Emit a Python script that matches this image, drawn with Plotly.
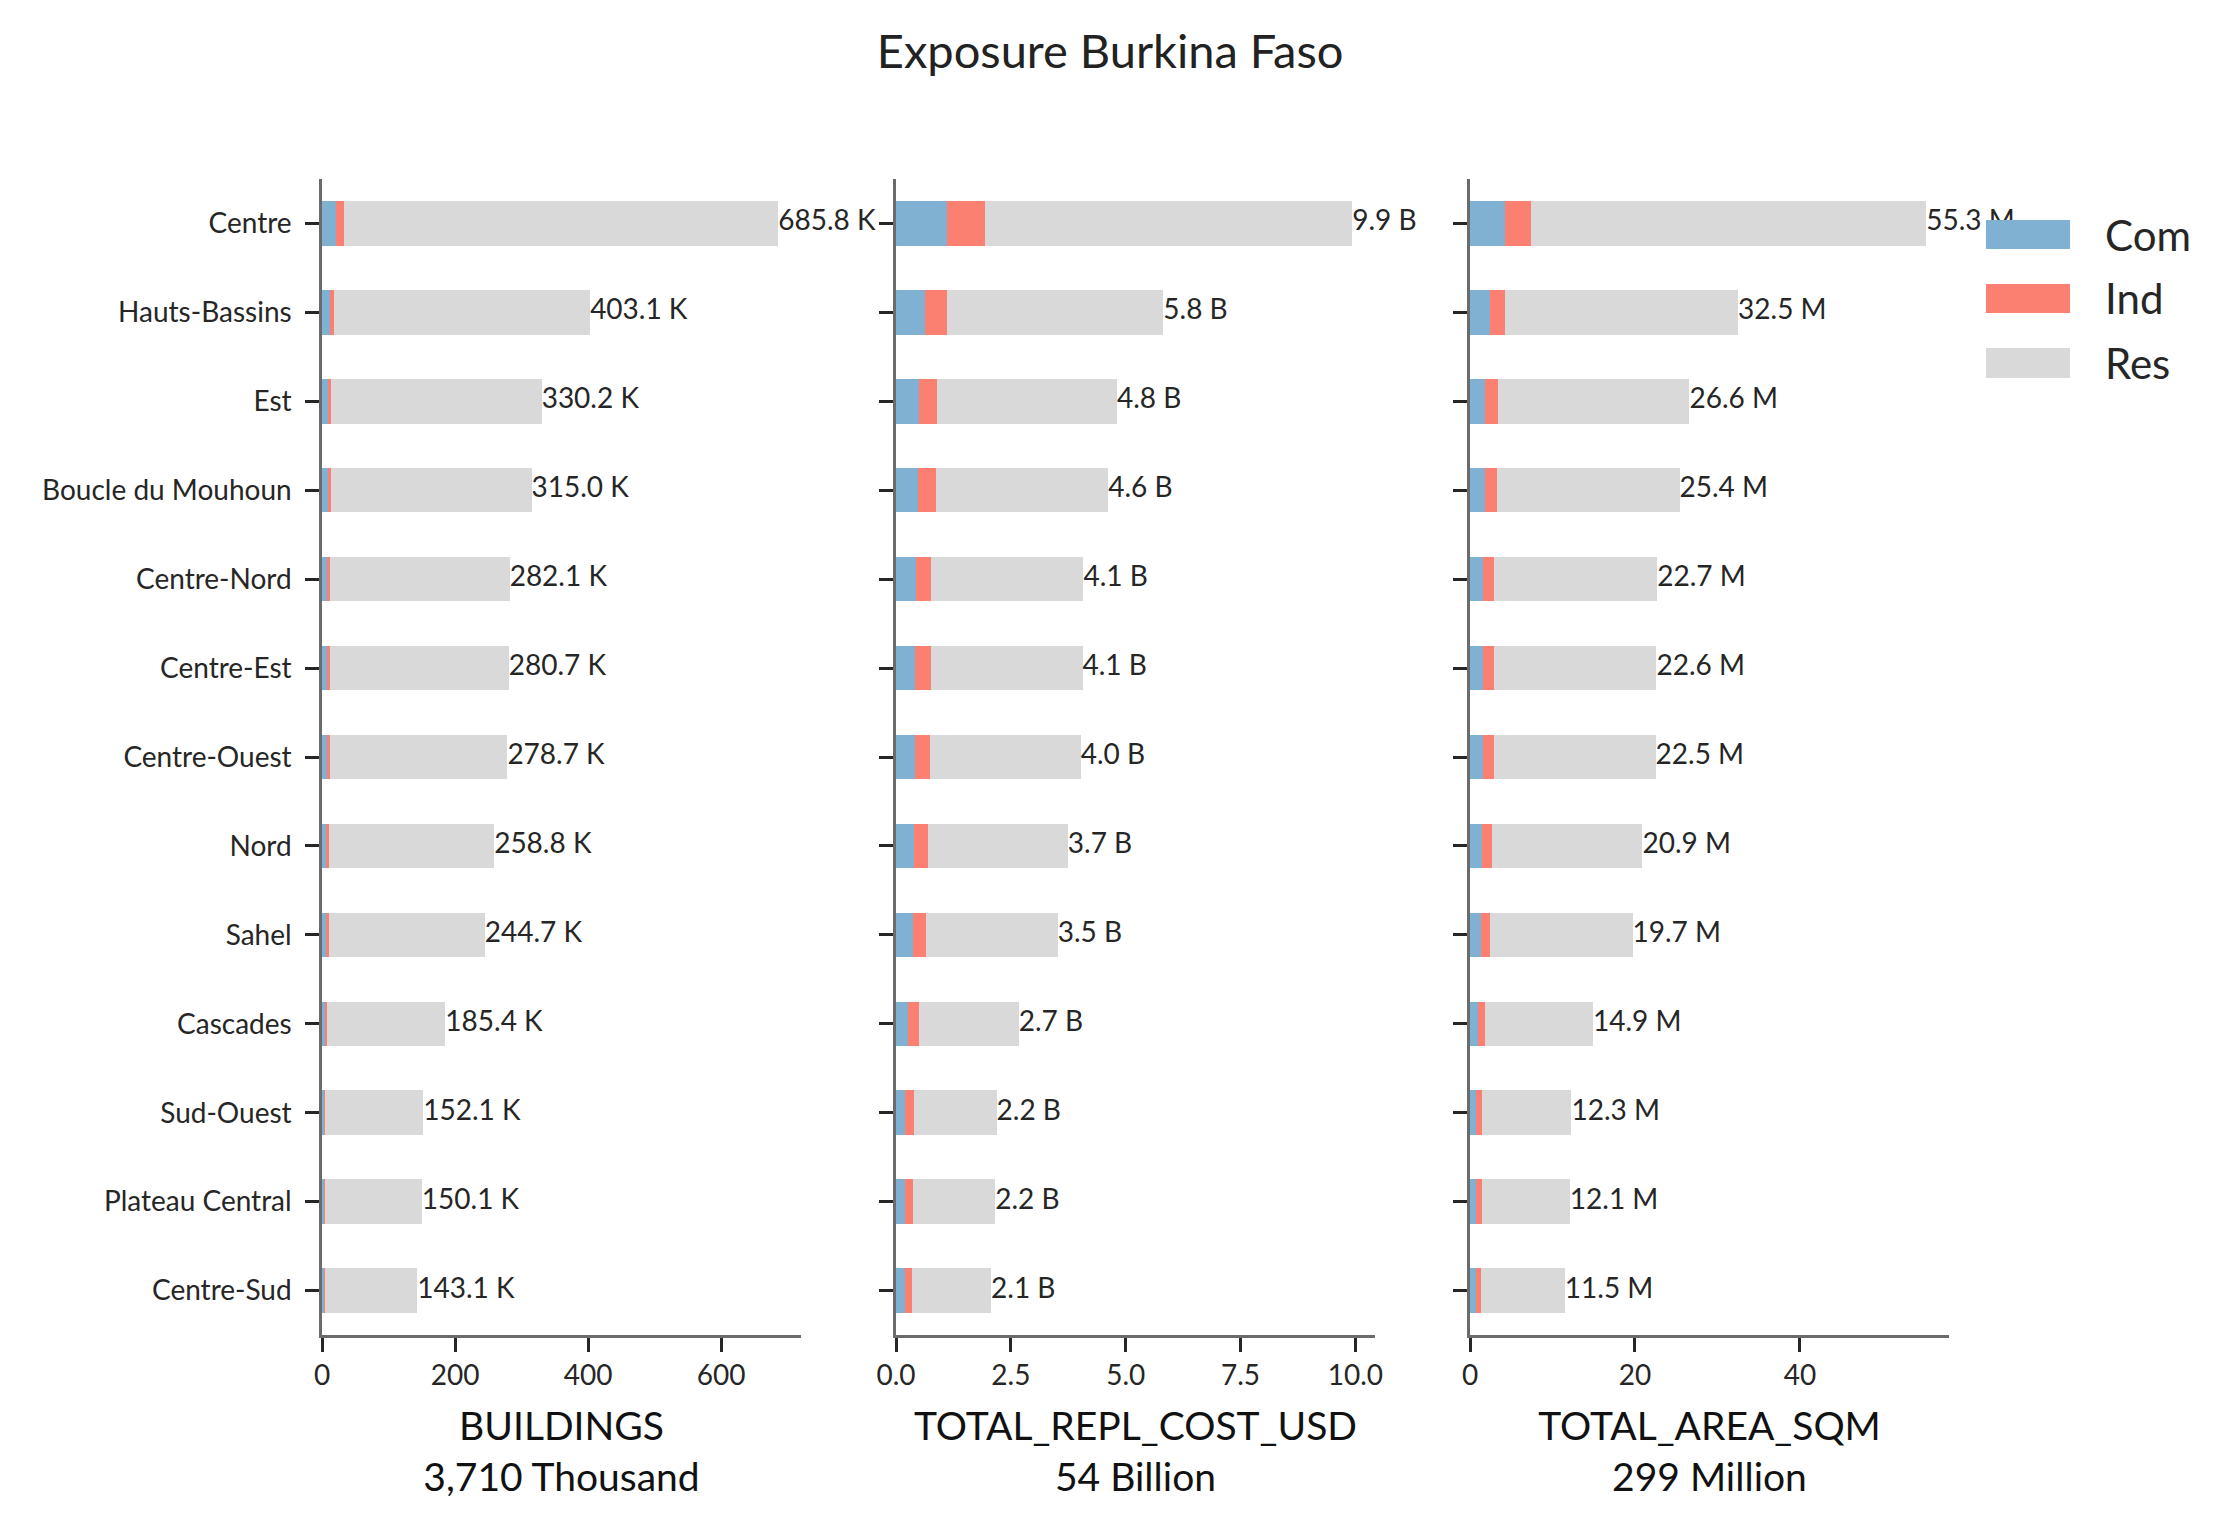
import plotly.graph_objects as go

# ---------------- data ----------------
regions = ["Centre", "Hauts-Bassins", "Est", "Boucle du Mouhoun", "Centre-Nord",
           "Centre-Est", "Centre-Ouest", "Nord", "Sahel", "Cascades", "Sud-Ouest",
           "Plateau Central", "Centre-Sud"]

# BUILDINGS (thousands)
bld_com = [20.3, 11.9, 8.3, 8.3, 8.0, 8.0, 8.0, 6.0, 6.0, 5.0, 3.0, 3.0, 3.0]
bld_ind = [13.1, 6.0, 5.4, 5.4, 4.5, 4.5, 4.5, 5.0, 5.0, 3.0, 2.0, 2.0, 2.0]
bld_res = [652.4, 385.2, 316.5, 301.3, 269.6, 268.2, 266.2, 247.8, 233.7, 177.4, 147.1, 145.1, 138.1]

# TOTAL_REPL_COST_USD (billions)
cost_com = [1.12, 0.64, 0.51, 0.48, 0.44, 0.42, 0.42, 0.39, 0.38, 0.27, 0.20, 0.20, 0.20]
cost_ind = [0.81, 0.48, 0.39, 0.38, 0.33, 0.35, 0.33, 0.31, 0.28, 0.22, 0.20, 0.17, 0.15]
cost_res = [8.00, 4.70, 3.91, 3.76, 3.31, 3.29, 3.27, 3.04, 2.86, 2.18, 1.79, 1.79, 1.72]

# TOTAL_AREA_SQM (millions)
area_com = [4.27, 2.40, 1.87, 1.79, 1.63, 1.63, 1.63, 1.46, 1.34, 0.98, 0.70, 0.70, 0.70]
area_ind = [3.13, 1.87, 1.52, 1.48, 1.30, 1.30, 1.30, 1.22, 1.10, 0.85, 0.77, 0.77, 0.65]
area_res = [47.90, 28.23, 23.21, 22.13, 19.77, 19.67, 19.57, 18.22, 17.26, 13.07, 10.83, 10.63, 10.15]

occupancies = ["Com", "Ind", "Res"]
occ_colors = ["#80b1d3", "#fb8072", "#d9d9d9"]

metrics = ["BUILDINGS", "TOTAL_REPL_COST_USD", "TOTAL_AREA_SQM"]
unit_words = ["Thousand", "Billion", "Million"]
unit_short = ["K", "B", "M"]
x_ticks = [[0, 200, 400, 600], [0, 2.5, 5.0, 7.5, 10.0], [0, 20, 40]]
x_tickformat = ["d", ".1f", "d"]

panel_data = [
    (bld_com, bld_ind, bld_res),
    (cost_com, cost_ind, cost_res),
    (area_com, area_ind, area_res),
]

# ---------------- figure ----------------
OFF = 8                      # page body margin of the html
W, H = 2238 - 2 * OFF, 1534 - 2 * OFF
ML, MT = 322 - OFF, 179 - OFF
MR = W - (1949 - OFF)
MB = H - (1335 - OFF)
plot_w = W - ML - MR
plot_h = H - MT - MB
panel_w = 479
gap = 95

FONT = "Lato, 'Noto Sans', sans-serif"
TXT = "#262626"
AXC = "#6b6b6b"

fig = go.Figure()
layout_axes = {}

for i, (com, ind, res) in enumerate(panel_data):
    xa = "x" if i == 0 else f"x{i+1}"
    ya = "y" if i == 0 else f"y{i+1}"
    for name, vals, col in zip(occupancies, (com, ind, res), occ_colors):
        fig.add_trace(go.Bar(
            y=regions, x=vals, orientation="h", name=name,
            marker=dict(color=col, line=dict(width=0)), width=0.5,
            xaxis=xa, yaxis=ya, showlegend=False, hoverinfo="x+y+name"))
    totals = [c + d + r for c, d, r in zip(com, ind, res)]
    labels = [f"{t:.1f} {unit_short[i]}" for t in totals]
    fig.add_trace(go.Scatter(
        x=totals, y=regions, mode="text", text=labels,
        textposition="middle right",
        textfont=dict(family=FONT, size=28, color=TXT),
        xaxis=xa, yaxis=ya, showlegend=False, hoverinfo="skip", cliponaxis=False))

    x0 = (i * (panel_w + gap)) / plot_w
    x1 = min(1.0, (i * (panel_w + gap) + panel_w) / plot_w)
    xmax = max(totals) * 1.05
    grand = sum(totals)
    title_txt = f"{metrics[i]}<br>{grand:,.0f} {unit_words[i]}"
    xkey = "xaxis" if i == 0 else f"xaxis{i+1}"
    ykey = "yaxis" if i == 0 else f"yaxis{i+1}"
    layout_axes[xkey] = dict(
        domain=[x0, x1], anchor=ya, range=[0, xmax],
        tickvals=x_ticks[i], tickformat=x_tickformat[i],
        ticks="outside", ticklen=14, tickwidth=2.5, tickcolor=TXT,
        showline=True, linecolor=AXC, linewidth=2.5,
        showgrid=False, zeroline=False,
        tickfont=dict(family=FONT, size=28, color=TXT),
        title=dict(text=title_txt, standoff=23,
                   font=dict(family=FONT, size=39, color="#111111")),
    )
    layout_axes[ykey] = dict(
        domain=[0, 1], anchor=xa, type="category",
        categoryorder="array", categoryarray=regions,
        range=[12.5, -0.5],
        ticks="outside", ticklen=14, tickwidth=2.5, tickcolor=TXT,
        showline=True, linecolor=AXC, linewidth=2.5,
        showgrid=False, zeroline=False,
        showticklabels=(i == 0),
        ticklabelstandoff=8,
        tickfont=dict(family=FONT, size=28, color=TXT),
    )

# custom legend (large swatches like the reference); pixel rows on the page
shapes = []
annotations = []
leg_rows_px = [(220, 249), (284, 313), (348, 378)]
for (top, bot), name, col in zip(leg_rows_px, occupancies, occ_colors):
    y0 = (H - MB - (bot - OFF)) / plot_h
    y1 = (H - MB - (top - OFF)) / plot_h
    shapes.append(dict(type="rect", xref="paper", yref="paper",
                       x0=(1986 - OFF - ML) / plot_w, x1=(2070 - OFF - ML) / plot_w,
                       y0=y0, y1=y1, fillcolor=col, line=dict(width=0),
                       layer="above"))
    annotations.append(dict(text=name, xref="paper", yref="paper",
                            x=(2103 - OFF - ML) / plot_w, y=(y0 + y1) / 2,
                            xanchor="left", yanchor="middle", showarrow=False,
                            font=dict(family=FONT, size=42, color=TXT)))

fig.update_layout(
    width=W, height=H,
    margin=dict(l=ML, r=MR, t=MT, b=MB, pad=0),
    barmode="stack",
    plot_bgcolor="white", paper_bgcolor="white",
    title=dict(text="Exposure Burkina Faso", x=0.496, xref="container",
               xanchor="center", y=1 - (52 - OFF) / H, yref="container",
               yanchor="middle",
               font=dict(family=FONT, size=47, color="#222222")),
    showlegend=False,
    shapes=shapes,
    annotations=annotations,
    **layout_axes,
)

fig.write_html("out.html")
